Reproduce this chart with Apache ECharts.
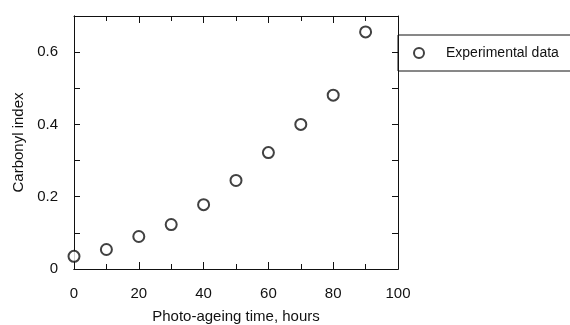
<!DOCTYPE html>
<html>
<head>
<meta charset="utf-8">
<script src="https://cdn.jsdelivr.net/npm/echarts@6/dist/echarts.min.js"></script>
<style>
  html, body { margin: 0; padding: 0; background: #fff; }
  #chart { width: 570px; height: 325px; }
</style>
</head>
<body>
<div id="chart"></div>
<script>
// photo-ageing time (hours) and carbonyl index
const hours = [0, 10, 20, 30, 40, 50, 60, 70, 80, 90];
const carbonyl = [0.035, 0.054, 0.09, 0.123, 0.178, 0.245, 0.322, 0.40, 0.481, 0.656];
const seriesName = 'Experimental data';

const chart = echarts.init(document.getElementById('chart'), null, { renderer: 'canvas' });

const font = 'Liberation Sans, Arial, sans-serif';
const ink = '#111';
const lineStyle = { color: ink, width: 1 };

// bare frame axis: line + inward ticks, no labels
function frameX(position) {
  return {
    type: 'value', position, min: 0, max: 100, interval: 20,
    axisLine: { onZero: false, lineStyle },
    axisTick: { inside: true, length: 7, lineStyle },
    minorTick: { show: true, splitNumber: 2, length: 5, lineStyle },
    axisLabel: { show: false },
    splitLine: { show: false }
  };
}
function frameY(position) {
  return {
    type: 'value', position, min: 0, max: 0.7, interval: 0.1,
    axisLine: { show: true, onZero: false, lineStyle },
    axisTick: { show: true, inside: true, length: 6, lineStyle },
    axisLabel: { show: false },
    splitLine: { show: false }
  };
}

const option = {
  animation: false,
  backgroundColor: '#fff',
  grid: { left: 74, right: 172, top: 16, bottom: 56, outerBoundsMode: 'none', containLabel: false },
  legend: {
    data: [seriesName],
    left: 398,
    top: 35,
    orient: 'horizontal',
    padding: [10, 30, 10, 15],
    itemWidth: 10,
    itemHeight: 10,
    borderColor: ink,
    borderWidth: 1,
    textStyle: { fontFamily: font, fontSize: 14, color: ink, lineHeight: 16, padding: [0, 0, 0, 17] }
  },
  xAxis: [
    {
      type: 'value',
      position: 'bottom',
      min: 0,
      max: 100,
      interval: 20,
      name: 'Photo-ageing time, hours',
      nameLocation: 'middle',
      nameGap: 40,
      nameTextStyle: { fontFamily: font, fontSize: 15, color: ink },
      axisLine: { onZero: false, lineStyle },
      axisTick: { show: false },
      axisLabel: { fontFamily: font, fontSize: 15, color: ink, margin: 17 },
      splitLine: { show: false }
    },
    frameX('top'),
    frameX('bottom')
  ],
  yAxis: [
    {
      type: 'value',
      position: 'left',
      min: 0,
      max: 0.7,
      interval: 0.1,
      name: 'Carbonyl index',
      nameLocation: 'middle',
      nameGap: 48,
      nameTextStyle: { fontFamily: font, fontSize: 15, color: ink },
      axisLine: { show: true, onZero: false, lineStyle },
      axisTick: { show: false },
      axisLabel: {
        fontFamily: font, fontSize: 15, color: ink, margin: 16,
        // only every other tick carries a label
        formatter: v => (Math.round(v * 10) % 2 === 0 ? String(Math.round(v * 10) / 10) : '')
      },
      splitLine: { show: false }
    },
    frameY('right'),
    frameY('left')
  ],
  series: [
    {
      name: seriesName,
      type: 'scatter',
      xAxisIndex: 0,
      yAxisIndex: 0,
      symbol: 'emptyCircle',
      symbolSize: 11,
      clip: false,
      z: 5,
      itemStyle: { color: ink, borderColor: ink, borderWidth: 1.3 },
      data: hours.map((h, i) => [h, carbonyl[i]])
    }
  ]
};

chart.setOption(option);
</script>
</body>
</html>
